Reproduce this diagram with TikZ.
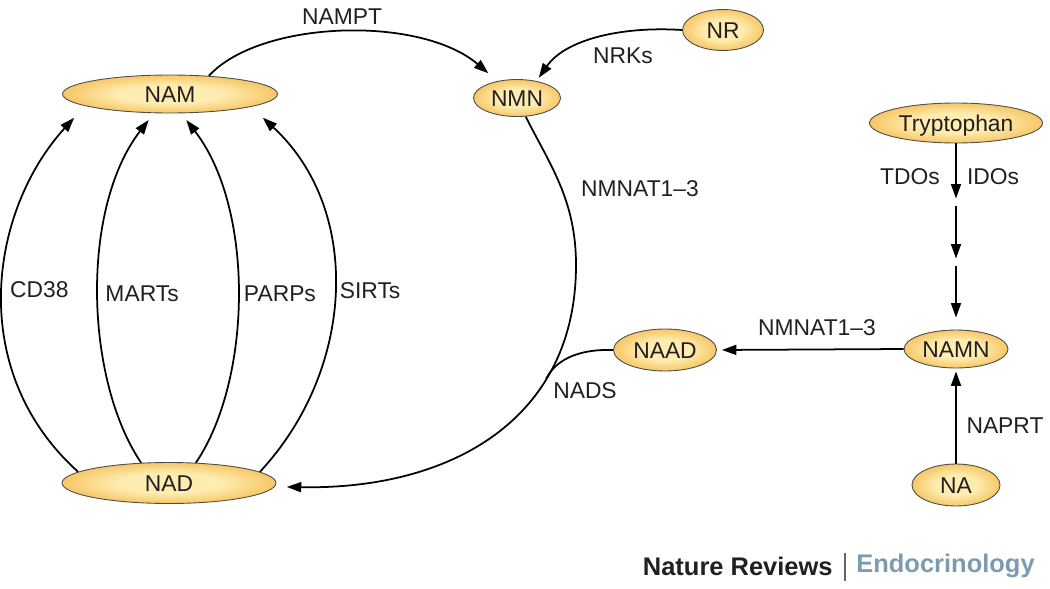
\documentclass[tikz,border=0pt]{standalone}
\usepackage{fontspec}
\setmainfont{Liberation Sans}
\usepackage{xcolor}
\usepackage{tikz}
\usetikzlibrary{arrows.meta, shapes.geometric}

\definecolor{nadin}{RGB}{254,236,176}
\definecolor{nadout}{RGB}{240,168,40}
\definecolor{txt}{RGB}{35,31,32}
\definecolor{endo}{RGB}{122,155,176}
\pgfdeclareradialshading{nadglow}{\pgfpoint{0bp}{0bp}}{color(0bp)=(nadin); color(12bp)=(nadin); color(36bp)=(nadout); color(50bp)=(nadout)}

\begin{document}
\begin{tikzpicture}[x=0.02cm, y=-0.02cm, >={Triangle[length=2.9mm,width=2mm]},
    met/.style={ellipse, draw=black!70, line width=0.5pt, inner sep=0pt,
        shading=nadglow, text=txt,
        font=\fontsize{13}{15}\selectfont, text height=9.3pt, text depth=0pt},
    lbl/.style={text=txt, font=\fontsize{13}{15}\selectfont, text height=9.3pt, text depth=0pt},
    rxn/.style={->, line width=1pt, black},
    logo/.style={inner sep=0pt, text=txt, font=\bfseries\fontsize{14.5}{17}\selectfont}]
    \useasboundingbox (0,0) rectangle (1050,588);

    \node[met, minimum width=4.3cm, minimum height=0.76cm] (NAM) at (170,94) {NAM};
    \node[met, minimum width=4.28cm, minimum height=0.82cm] (NAD) at (169,483) {NAD};
    \node[met, minimum width=1.74cm, minimum height=0.74cm] (NMN) at (517,98) {NMN};
    \node[met, minimum width=1.62cm, minimum height=0.82cm] (NR) at (723,30) {NR};
    \node[met, minimum width=3.46cm, minimum height=0.8cm] (Trp) at (956,123) {Tryptophan};
    \node[met, minimum width=2.08cm, minimum height=0.76cm] (NAMN) at (956,349) {NAMN};
    \node[met, minimum width=2.06cm, minimum height=0.84cm] (NAAD) at (665,350) {NAAD};
    \node[met, minimum width=1.76cm, minimum height=0.84cm] (NA) at (956,485) {NA};

    \draw[rxn, shorten >=2.4mm] (NAM.25) .. controls (260,20) and (420,15) .. (NMN.139);
    \draw[rxn, shorten >=0.8mm] (NR.west) .. controls (620,26) and (565,40) .. (NMN.41);
    \draw[rxn, shorten >=2.4mm] (NMN.-65) .. controls (550,165) and (576,200) .. (576,265)
        .. controls (576,420) and (450,490) .. (NAD.-2) coordinate[pos=0.29] (jn);
    \draw[line width=1pt] (NAAD.west) .. controls (585,349) and (558,356) .. (jn);

    \draw[rxn, shorten >=3.2mm] (NAD.173) .. controls (-35,370) and (-10,210) .. (NAM.188)
        node[lbl, pos=0.5, right] (lCD38) {CD38};
    \draw[rxn, shorten >=1.7mm] (NAD.144) .. controls (85,380) and (80,209) .. (NAM.230)
        node[lbl, pos=0.5, right] (lMART) {MARTs};
    \draw[rxn, shorten >=1.7mm] (NAD.37) .. controls (252,380) and (255,209) .. (NAM.-60)
        node[lbl, pos=0.5, right] (lPARP) {PARPs};
    \draw[rxn, shorten >=3.2mm] (NAD.7) .. controls (355,370) and (363,210) .. (NAM.-9)
        node[lbl, pos=0.5, right] (lSIRT) {SIRTs};

    \coordinate (k1) at (956,202);
    \coordinate (k2) at (956,262);
    \draw[rxn, shorten >=0.7mm] (Trp.south) -- (k1);
    \draw[rxn, shorten <=0.7mm, shorten >=0.7mm] (k1) -- (k2);
    \draw[rxn, shorten <=0.7mm, shorten >=2.4mm] (k2) -- (NAMN.north);
    \draw[rxn, shorten >=1mm] (NAMN.west) -- (NAAD.east);
    \draw[rxn, shorten >=0.6mm] (NA.north) -- (NAMN.south);

    \node[lbl] (lNAMPT) at (342,16) {NAMPT};
    \node[lbl] (lNRK) at (623,55) {NRKs};
    \node[lbl] (lNMNATa) at (640,188) {NMNAT1\textendash 3};
    \node[lbl] (lNADS) at (585,390) {NADS};
    \node[lbl] (lNMNATb) at (817,327) {NMNAT1\textendash 3};
    \node[lbl] (lTDO) at (910,176) {TDOs};
    \node[lbl] (lIDO) at (993,176) {IDOs};
    \node[lbl] (lNAPRT) at (1005,425) {NAPRT};

    \node[logo, anchor=east] (brand) at (833,566) {Nature Reviews};
    \node[logo, anchor=west, text=endo] (journal) at (856,566) {Endocrinology};
    \draw[black!60, line width=0.6pt] (845,553) -- (845,581);
\end{tikzpicture}
\end{document}
